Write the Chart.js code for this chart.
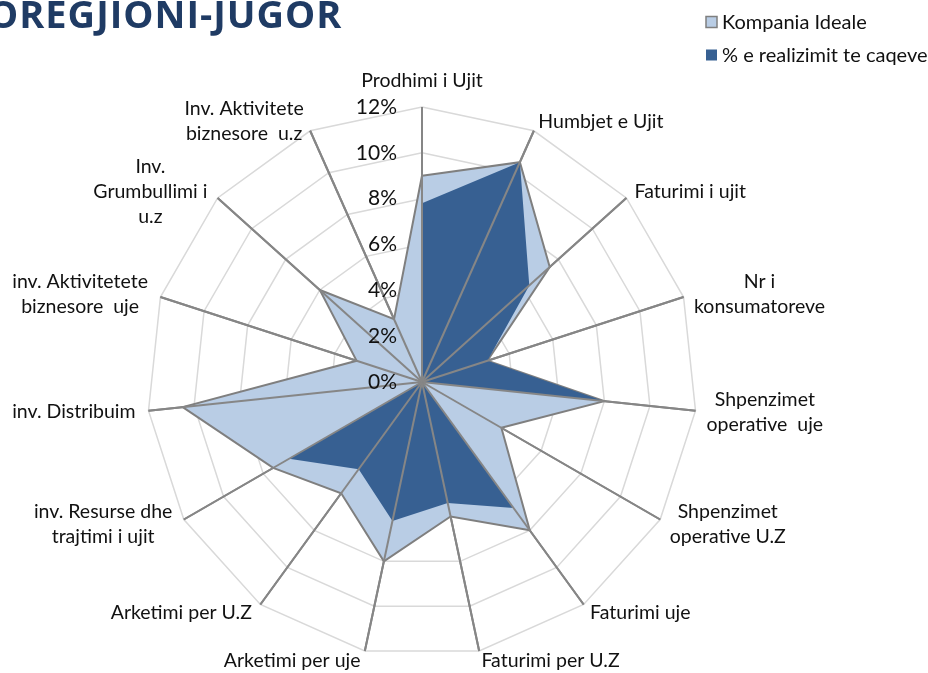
<!DOCTYPE html>
<html>
<head>
<meta charset="utf-8">
<title>OREGJIONI-JUGOR</title>
<script src="https://cdn.jsdelivr.net/npm/chart.js@4.4.0/dist/chart.umd.min.js"></script>
<style>
  html, body { margin: 0; padding: 0; background: #fff; }
  #wrap { position: relative; width: 928px; height: 673px; }
</style>
</head>
<body>
<div id="wrap"><canvas id="myChart"></canvas></div>
<script>
var chartTitle = 'OREGJIONI-JUGOR';

var categories = [
    'Prodhimi i Ujit',
    'Humbjet e Ujit',
    'Faturimi i ujit',
    ['Nr i', 'konsumatoreve'],
    ['Shpenzimet', 'operative  uje'],
    ['Shpenzimet', 'operative U.Z'],
    'Faturimi uje',
    'Faturimi per U.Z',
    'Arketimi per uje',
    'Arketimi per U.Z',
    ['inv. Resurse dhe', 'trajtimi i ujit'],
    'inv. Distribuim',
    ['inv. Aktivitetete', 'biznesore  uje'],
    ['Inv.', 'Grumbullimi i', 'u.z'],
    ['Inv. Aktivitete', 'biznesore  u.z']
];

var seriesNames = ['Kompania Ideale', '% e realizimit te caqeve'];

// values in percent
var idealValues = [9, 10.5, 7.5, 3, 8, 4, 8, 6, 8, 6, 7.5, 10.5, 3, 6, 3];
var realizedValues = [7.8, 10.5, 6.3, 3, 8, 0, 6.8, 5.4, 6.2, 4.7, 6.7, 0, 0, 0, 0];

var tickValues = [0, 2, 4, 6, 8, 10, 12];

var spokeColor = '#868686';
var textColor = '#111111';

// Excel style extras: spokes over the fills, tick labels left of the axis,
// centred point labels, title and legend
var excelLook = {
    id: 'excelLook',
    afterDatasetsDraw: function (chart) {
        var r = chart.scales.r;
        var ctx = chart.ctx;
        var outer = r.getDistanceFromCenterForValue(r.max);
        ctx.save();
        ctx.strokeStyle = spokeColor;
        ctx.lineWidth = 2;
        for (var i = 0; i < chart.data.labels.length; i++) {
            var p = r.getPointPosition(i, outer);
            ctx.beginPath();
            ctx.moveTo(r.xCenter, r.yCenter);
            ctx.lineTo(p.x, p.y);
            ctx.stroke();
        }
        ctx.font = '21px Lato';
        ctx.fillStyle = textColor;
        ctx.textAlign = 'right';
        ctx.textBaseline = 'middle';
        r.ticks.forEach(function (t) {
            var y = r.yCenter - r.getDistanceFromCenterForValue(t.value);
            ctx.fillText(t.label || (t.value + '%'), r.xCenter - 25, y);
        });
        ctx.restore();
    },
    afterDraw: function (chart) {
        var r = chart.scales.r;
        var ctx = chart.ctx;
        var outer = r.getDistanceFromCenterForValue(r.max);
        var lineH = 25;
        ctx.save();

        // point labels
        ctx.font = '19.5px Lato';
        ctx.fillStyle = textColor;
        ctx.textAlign = 'center';
        ctx.textBaseline = 'middle';
        chart.data.labels.forEach(function (label, i) {
            var lines = [].concat(label);
            var a = r.getIndexAngle(i);
            var sinA = Math.sin(a), cosA = Math.cos(a);
            var e = r.getPointPosition(i, outer);
            var w = 0;
            lines.forEach(function (l) { w = Math.max(w, ctx.measureText(l).width); });
            var h = lines.length * lineH;
            var cx = e.x;
            if (sinA > 0.05) cx = e.x + sinA * 11 + w / 2;
            if (sinA < -0.05) cx = e.x + sinA * 11 - 2 - w / 2;
            var cy = e.y - cosA * 10 - (cosA > 0.99 ? 16 : 0);
            lines.forEach(function (l, k) {
                ctx.fillText(l, cx, cy - h / 2 + lineH / 2 + k * lineH);
            });
        });

        // title, cut at the left edge like the original
        ctx.font = 'bold 38px "Open Sans"';
        ctx.letterSpacing = '1px';
        ctx.fillStyle = '#1f3b64';
        ctx.textAlign = 'left';
        ctx.textBaseline = 'alphabetic';
        ctx.fillText(chartTitle, -12, 28);
        ctx.letterSpacing = '0px';

        // legend
        ctx.font = '20px Lato';
        ctx.textBaseline = 'middle';
        chart.data.datasets.forEach(function (ds, k) {
            var y = 22 + k * 33;
            ctx.fillStyle = ds.backgroundColor;
            ctx.fillRect(706, y - 5.5, 11, 11);
            if (ds.borderWidth) {
                ctx.strokeStyle = ds.borderColor;
                ctx.lineWidth = 1.5;
                ctx.strokeRect(706, y - 5.5, 11, 11);
            }
            ctx.fillStyle = textColor;
            ctx.fillText(ds.label, 722, y + 1);
        });
        ctx.restore();
    }
};

window.onload = function () {
    var ctx = document.getElementById('myChart').getContext('2d');
    var myChart = new Chart(ctx, {
        type: 'radar',
        data: {
            labels: categories,
            datasets: [{
                label: seriesNames[0],
                data: idealValues,
                backgroundColor: '#b9cde5',
                borderColor: '#7f7f7f',
                borderWidth: 2,
                pointRadius: 0,
                fill: true,
                order: 2
            },
            {
                label: seriesNames[1],
                data: realizedValues,
                backgroundColor: '#376092',
                borderColor: 'rgba(0,0,0,0)',
                borderWidth: 0,
                pointRadius: 0,
                fill: true,
                order: 1
            }]
        },
        options: {
            responsive: true,
            maintainAspectRatio: false,
            animation: false,
            layout: {
                padding: { left: 147, right: 231, top: 107, bottom: 16 }
            },
            elements: {
                line: { tension: 0 }
            },
            plugins: {
                legend: { display: false },
                tooltip: { enabled: false }
            },
            scales: {
                r: {
                    min: 0,
                    max: 12,
                    afterBuildTicks: function (scale) {
                        scale.ticks = tickValues.map(function (v) { return { value: v }; });
                    },
                    ticks: {
                        display: false,
                        callback: function (v) { return v + '%'; }
                    },
                    pointLabels: { display: false },
                    grid: { color: '#d9d9d9', lineWidth: 1.5, circular: false },
                    angleLines: { color: spokeColor, lineWidth: 2 }
                }
            }
        },
        plugins: [excelLook]
    });
};
</script>
</body>
</html>
